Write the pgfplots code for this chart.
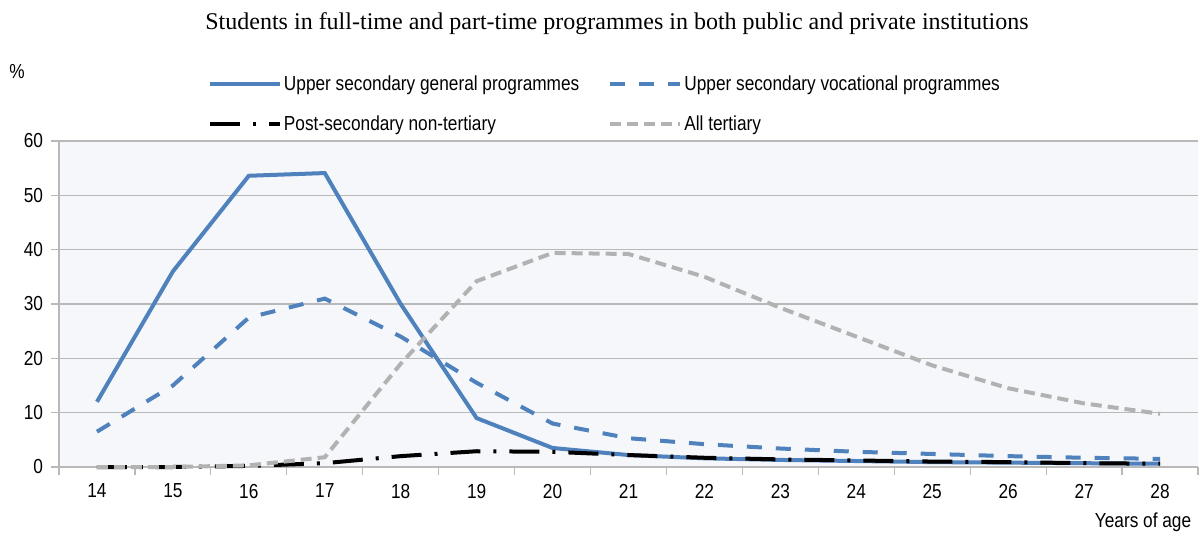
\documentclass[border=0pt]{standalone}
\usepackage{fontspec}
\setmainfont{Liberation Sans}[FakeStretch=0.85]
\newfontfamily\titlefont{Liberation Serif}
\usepackage{pgfplots}
\usepackage{pgfplotstable}
\pgfplotsset{compat=1.18}
\definecolor{blueA}{RGB}{79,129,189}
\definecolor{grayT}{RGB}{178,178,178}
\definecolor{gridgray}{RGB}{185,185,185}
\definecolor{bgfill}{RGB}{245,247,251}

\pgfplotstableread{
age gen voc post tert
14 12.0 6.5 0.0 0.0
15 36.0 15.0 0.0 0.0
16 53.6 27.5 0.2 0.3
17 54.1 31.0 0.7 1.8
18 30.0 24.0 2.0 19.0
19 9.0 15.5 2.9 34.2
20 3.5 8.0 2.8 39.4
21 2.2 5.3 2.2 39.2
22 1.6 4.2 1.7 35.0
23 1.3 3.4 1.4 29.3
24 1.1 2.8 1.2 24.0
25 0.9 2.4 1.0 18.7
26 0.8 2.0 0.9 14.5
27 0.7 1.7 0.7 11.7
28 0.6 1.5 0.6 9.8
}\datatable

\begin{document}
\begin{tikzpicture}[font=\fontsize{20.3bp}{24bp}\selectfont]
\useasboundingbox (-59bp,-66bp) rectangle (1141bp,467bp);
\begin{axis}[
  at={(0,0)}, anchor=south west,
  width=1139bp, height=326bp, scale only axis,
  xmin=13.5, xmax=28.5, ymin=0, ymax=60,
  xtick={13.5,14.5,15.5,16.5,17.5,18.5,19.5,20.5,21.5,22.5,23.5,24.5,25.5,26.5,27.5,28.5},
  xticklabels={14,15,16,17,18,19,20,21,22,23,24,25,26,27,28,},
  x tick label as interval,
  xticklabel style={yshift=-6bp},
  ytick={0,10,...,60},
  yticklabel style={xshift=-5bp},
  /pgf/number format/assume math mode=true,
  axis lines*=left,
  axis line style={draw=gridgray, line width=1.2bp},
  every tick/.style={draw=gridgray, line width=1.2bp},
  ymajorgrids, major grid style={draw=gridgray, line width=1.2bp},
  tick align=outside,
  major tick length=7.5bp,
  axis background/.style={fill=bgfill},
  clip=false,
  legend columns=2,
  legend cell align=left,
  legend image code/.code={\draw[#1] (0bp,0bp) -- (70bp,0bp);},
  legend style={at={(0.128,1.213)}, anchor=north west, draw=none, fill=none,
    /tikz/every even column/.append style={column sep=27bp},
    row sep=20bp},
]
\addplot[blueA, line width=4bp] table[x=age, y=gen] {\datatable};
\addlegendentry{Upper secondary general programmes}
\addplot[blueA, line width=4bp, dash pattern=on 15bp off 14bp] table[x=age, y=voc] {\datatable};
\addlegendentry{Upper secondary vocational programmes}
\addplot[black, line width=4bp, dash pattern=on 30bp off 13bp on 3bp off 13bp] table[x=age, y=post] {\datatable};
\addlegendentry{Post-secondary non-tertiary}
\addplot[grayT, line width=4bp, dash pattern=on 11bp off 6bp] table[x=age, y=tert] {\datatable};
\addlegendentry{All tertiary}
\end{axis}
\node[font=\titlefont\fontsize{24bp}{28bp}\selectfont] at (558bp,443bp) {Students in full-time and part-time programmes in both public and private institutions};
\node at (-42bp,395bp) {\%};
\node at (1084bp,-55bp) {Years of age};
\end{tikzpicture}
\end{document}
